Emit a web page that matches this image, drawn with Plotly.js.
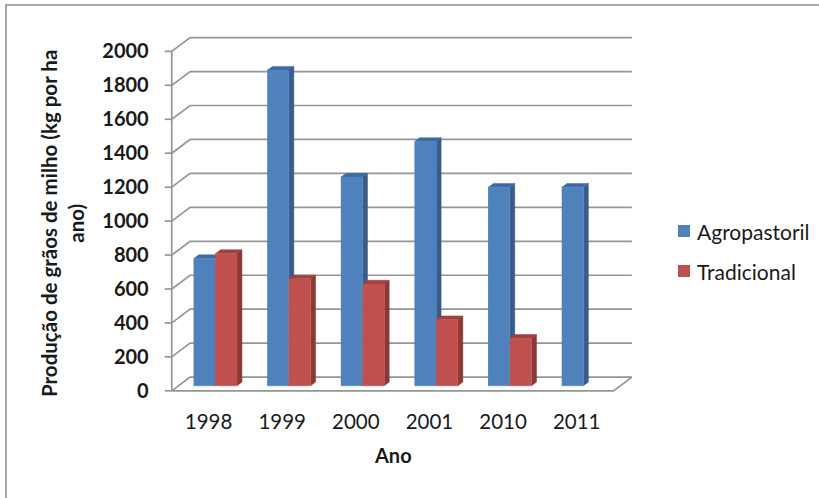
<!DOCTYPE html>
<html>
<head>
<meta charset="utf-8">
<script src="https://cdn.plot.ly/plotly-3.0.1.min.js"></script>
<style>
  html, body { margin: 0; padding: 0; background: #ffffff; }
  #chart { width: 819px; height: 498px; }
</style>
</head>
<body>
<div id="chart"></div>
<script>
// Maize grain yield per year, two production systems
const years = ['1998', '1999', '2000', '2001', '2010', '2011'];
const agropastoril = [750, 1860, 1230, 1440, 1170, 1170];
const tradicional = [780, 630, 600, 390, 280, null];
const seriesNames = ['Agropastoril', 'Tradicional'];
const yTicks = [0, 200, 400, 600, 800, 1000, 1200, 1400, 1600, 1800, 2000];

// Face colours per series: front, side, top
const faceColors = [
  { front: '#4F81BD', side: '#385D8A', top: '#3E6AA2' },
  { front: '#C0504D', side: '#8C3836', top: '#A2403D' }
];

// Oblique projection of the 3-D box (data units of the front plane):
// moving from the front to the back wall shifts a point right and up.
const DEPTH_X = 0.249;
const DEPTH_Y = 81;
const BAR_FRONT = 0.365;   // depth fraction of the bars' front faces
const BAR_BACK = 0.635;    // depth fraction of the bars' back faces
const BAR_W = 0.295;       // bar width in category units
const N = years.length;
const Y_MAX = yTicks[yTicks.length - 1];

// Plot-area geometry in pixels
const W = 819, H = 498;
const ML = 146, MR = 176, MT = 31, MB = 97;
const PW = W - ML - MR, PH = H - MT - MB;
const X_RANGE = [-0.35, 6.4];
const Y_RANGE = [-60, 2120];
const pxToPaperX = px => (px - ML) / PW;
const pyToPaperY = py => 1 - (py - MT) / PH;
const xUnitsPerPx = (X_RANGE[1] - X_RANGE[0]) / PW;

const FONT = 'Lato, "Liberation Sans", Arial, sans-serif';
const GRID = '#969696';
const TEXT = '#1A1A1A';

const traces = [];

// Back wall and side wall gridlines (one polyline per tick value)
const gx = [], gy = [];
yTicks.forEach(v => {
  gx.push(0, DEPTH_X, N + DEPTH_X, null);
  gy.push(v, v + DEPTH_Y, v + DEPTH_Y, null);
});
traces.push({ x: gx, y: gy, mode: 'lines', line: { color: GRID, width: 1.7 },
  hoverinfo: 'skip', showlegend: false });

// Floor front edge and right edge, front value axis and its tick marks
const ax = [0, N, N + DEPTH_X, null, 0, 0, null];
const ay = [0, 0, DEPTH_Y, null, 0, Y_MAX, null];
const tickLen = 7 * xUnitsPerPx;
yTicks.forEach(v => { ax.push(-tickLen, 0, null); ay.push(v, v, null); });
traces.push({ x: ax, y: ay, mode: 'lines', line: { color: GRID, width: 1.7 },
  hoverinfo: 'skip', showlegend: false });

// 3-D columns: side, top and front face polygons for each series
const ddx = (BAR_BACK - BAR_FRONT) * DEPTH_X;
const ddy = (BAR_BACK - BAR_FRONT) * DEPTH_Y;
[agropastoril, tradicional].forEach((vals, s) => {
  const side = { x: [], y: [] }, top = { x: [], y: [] }, front = { x: [], y: [] };
  vals.forEach((v, i) => {
    if (v === null) return;
    const x0 = i + 0.5 - BAR_W + s * BAR_W + BAR_FRONT * DEPTH_X;
    const x1 = x0 + BAR_W;
    const yb = BAR_FRONT * DEPTH_Y;
    const yt = yb + v;
    side.x.push(x1, x1 + ddx, x1 + ddx, x1, null);
    side.y.push(yb, yb + ddy, yt + ddy, yt, null);
    top.x.push(x0, x1, x1 + ddx, x0 + ddx, null);
    top.y.push(yt, yt, yt + ddy, yt + ddy, null);
    front.x.push(x0, x1, x1, x0, null);
    front.y.push(yb, yb, yt, yt, null);
  });
  [['side', side], ['top', top], ['front', front]].forEach(([face, d]) => {
    traces.push({
      x: d.x, y: d.y, mode: 'lines', fill: 'toself',
      fillcolor: faceColors[s][face],
      line: { color: faceColors[s][face], width: 0.5 },
      name: seriesNames[s], hoverinfo: 'skip', showlegend: false
    });
  });
});

// Legend: colour keys and series names
const legendRows = [231, 271];
const shapes = [];
const annotations = [];
seriesNames.forEach((name, s) => {
  const cy = legendRows[s];
  shapes.push({
    type: 'rect', xref: 'paper', yref: 'paper',
    x0: pxToPaperX(678), x1: pxToPaperX(690),
    y0: pyToPaperY(cy - 6), y1: pyToPaperY(cy + 6),
    fillcolor: faceColors[s].front, line: { width: 0 }
  });
  annotations.push({
    xref: 'paper', yref: 'paper', x: pxToPaperX(695), y: pyToPaperY(cy),
    xanchor: 'left', yanchor: 'middle', showarrow: false, text: name,
    font: { family: FONT, size: 21, color: TEXT }
  });
});

// Value axis title
annotations.push({
  xref: 'paper', yref: 'paper', x: pxToPaperX(62), y: pyToPaperY(224),
  xanchor: 'center', yanchor: 'middle', showarrow: false, textangle: -90,
  text: '<b>Produção de grãos de milho (kg por ha<br>ano)</b>',
  font: { family: FONT, size: 20.5, color: TEXT }
});
// Category axis title
annotations.push({
  xref: 'paper', yref: 'paper', x: pxToPaperX(393), y: pyToPaperY(455),
  xanchor: 'center', yanchor: 'middle', showarrow: false,
  text: '<b>Ano</b>', font: { family: FONT, size: 20, color: TEXT }
});

// Chart frame
shapes.push({
  type: 'rect', xref: 'paper', yref: 'paper',
  x0: pxToPaperX(6), x1: pxToPaperX(W + 20),
  y0: pyToPaperY(H + 20), y1: pyToPaperY(5),
  line: { color: '#A8A8A8', width: 2 }, fillcolor: 'rgba(0,0,0,0)'
});

const layout = {
  width: W, height: H,
  margin: { l: ML, r: MR, t: MT, b: MB, pad: 0 },
  paper_bgcolor: '#ffffff', plot_bgcolor: 'rgba(0,0,0,0)',
  showlegend: false,
  xaxis: {
    range: X_RANGE, fixedrange: true,
    tickmode: 'array', tickvals: years.map((_, i) => i + 0.5), ticktext: years,
    ticks: 'outside', ticklen: 2, tickcolor: 'rgba(0,0,0,0)',
    showgrid: false, zeroline: false, showline: false,
    tickfont: { family: FONT, size: 20.5, color: TEXT }
  },
  yaxis: {
    range: Y_RANGE, fixedrange: true, anchor: 'free',
    position: pxToPaperX(171.7),
    tickmode: 'array', tickvals: yTicks, ticktext: yTicks.map(String),
    ticks: 'outside', ticklen: 19, tickcolor: 'rgba(0,0,0,0)',
    showgrid: false, zeroline: false, showline: false,
    tickfont: { family: FONT, size: 20, color: TEXT, weight: 'bold' }
  },
  shapes: shapes,
  annotations: annotations
};

Plotly.newPlot('chart', traces, layout, { staticPlot: true, displayModeBar: false });
</script>
</body>
</html>
